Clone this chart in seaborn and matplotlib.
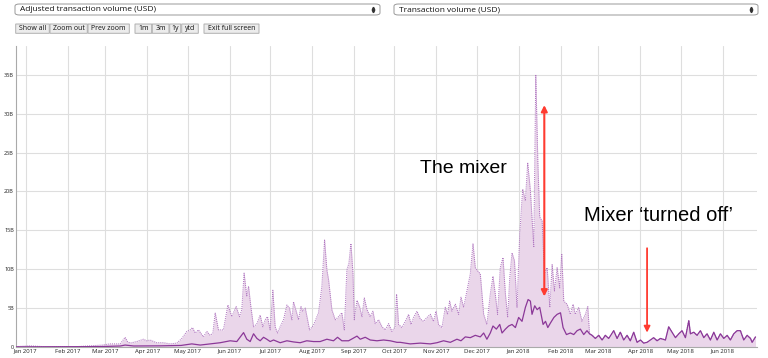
import matplotlib
matplotlib.use("Agg")
import matplotlib.pyplot as plt
import matplotlib.dates as mdates
from matplotlib.patches import FancyBboxPatch
from matplotlib.lines import Line2D
import numpy as np
import pandas as pd
import seaborn as sns

ORIGIN = pd.Timestamp("2017-01-01")

# Transaction volume (USD bn), days since 1 Jan 2017, up to the mixer switch-off
tx_days = [-7, 3, 13, 38, 57, 62, 70, 73.6, 75.3, 77.3,
           82.2, 87.2, 89.6, 92.1, 97, 102, 106.9, 111.9, 115.6, 119.3,
           121.7, 123.5, 125.5, 127.9, 131.6, 134.1, 136.6, 138.6, 140.3, 142.7,
           146.4, 149.7, 152.6, 155.8, 158.3, 160, 161.7, 163.7, 165, 166.7,
           168.7, 171.2, 173.6, 175.6, 177.3, 179, 181, 183, 184.7, 186.5,
           188.4, 190.9, 193.4, 195.3, 197.1, 198.3, 200.3, 202, 203.8, 205.2,
           207, 208.7, 210.2, 213.1, 216.8, 219.3, 221.3, 223, 224.3, 226.7,
           229.2, 231.7, 234.1, 235.9, 237.8, 239.3, 240.8, 242.3, 243.3, 245.3,
           247.2, 249, 250.7, 252.7, 255.1, 257.1, 258.8, 261.3, 263.8, 266.2,
           268.7, 271.2, 273.5, 274.6, 276.1, 278.6, 281.1, 283.5, 285.3, 287.2,
           289.7, 292.2, 294.6, 297.1, 299.6, 302, 303.8, 305.7, 308.2, 310.7,
           312.4, 313.9, 315.6, 318.1, 320.6, 322.3, 324.3, 326.7, 329.2, 331.2,
           332.9, 334.6, 336.6, 339.1, 341.5, 344, 346, 347.7, 349.4, 351.4,
           353.4, 355.2, 356.9, 358.4, 360.1, 361.9, 363.8, 365.8, 368, 370,
           371.7, 373.7, 374.9, 376.2, 377.7, 379.2, 380.6, 382.4, 384.1, 386.1,
           388.1, 389.8, 391.5, 393.5, 395.4, 396.9, 398.4, 400.9, 403.3, 405.3,
           407, 409.5, 411.9, 414.4, 416.2]
tx_vals = [0.05, 0.15, 0.05, 0.05, 0.25, 0.4, 0.4, 1.25, 0.7, 0.5,
           0.7, 1.0, 0.8, 0.9, 0.55, 0.55, 0.4, 0.5, 1.1, 2.0,
           2.2, 2.5, 1.8, 2.2, 1.3, 2.0, 1.5, 1.8, 4.4, 2.2,
           2.2, 5.4, 3.9, 5.2, 3.9, 4.8, 9.5, 6.5, 7.8, 5.2,
           2.6, 3.0, 4.1, 2.6, 3.5, 3.9, 2.2, 7.3, 2.6, 1.8,
           2.6, 3.5, 5.4, 5.0, 3.5, 5.8, 4.6, 3.5, 5.2, 4.6,
           5.0, 3.5, 2.2, 2.8, 4.4, 7.8, 13.75, 9.9, 8.6, 4.8,
           3.5, 3.9, 4.4, 2.2, 9.9, 10.75, 13.3, 9.5, 3.5, 6.0,
           5.2, 3.9, 6.3, 4.8, 3.9, 4.6, 3.0, 3.5, 2.6, 2.2,
           3.0, 2.0, 2.6, 6.8, 2.9, 2.5, 3.3, 4.2, 2.9, 3.8,
           4.6, 3.6, 3.3, 3.8, 4.2, 3.3, 4.6, 2.9, 2.5, 5.1,
           4.2, 5.9, 4.6, 5.5, 4.2, 6.4, 5.1, 7.2, 9.4, 13.3,
           10.2, 9.8, 9.4, 4.2, 2.9, 6.8, 9.1, 6.8, 4.2, 10.2,
           11.5, 6.8, 3.8, 8.9, 12.1, 11.1, 5.1, 14.5, 20.3, 18.8,
           23.7, 20.1, 16.7, 12.8, 35.0, 23.9, 16.7, 16.2, 9.4, 10.2,
           5.1, 10.6, 7.2, 10.2, 7.6, 12.0, 5.9, 5.5, 4.2, 5.5,
           4.2, 5.1, 3.3, 4.2, 5.2]

# Adjusted transaction volume (USD bn), up to the switch-off
adj_days = [-7, 55, 70, 73.6, 80, 100, 115, 119, 123,
            129.2, 136.6, 144, 151.4, 156.3, 161.3, 163.7, 166.2, 168.7, 171.2,
            173.6, 176.1, 178.5, 181, 183.5, 188.4, 193.4, 198.3, 203.2, 208.1,
            213.1, 218, 223, 227.9, 230.9, 234.1, 239.1, 245.3, 247.7, 251.4,
            255.1, 260.1, 265, 269.9, 274.9, 277.3, 284.7, 292.2, 299.6, 304.5,
            309.4, 314.4, 319.3, 322.3, 325.5, 329.2, 332.9, 336.6, 339.1, 341.5,
            344, 346, 348.5, 351, 352.7, 355.2, 357.6, 360.1, 362.6, 365,
            367.5, 370, 372, 373.7, 374.9, 376.9, 378.7, 380.6, 383.1, 384.9,
            386.6, 388.6, 391.1, 393.5, 396, 397.9, 400.4, 403.3, 405.8, 408.3,
            410.7, 413.2, 415.6]
adj_vals = [0.02, 0.05, 0.13, 0.25, 0.13, 0.15, 0.2, 0.3, 0.4,
            0.25, 0.4, 0.55, 0.8, 0.7, 1.85, 1.0, 0.7, 1.7, 1.1,
            0.8, 1.25, 1.0, 0.7, 0.9, 0.55, 0.8, 0.65, 0.55, 0.8,
            0.7, 0.7, 1.0, 0.8, 1.25, 0.8, 0.8, 1.4, 1.0, 1.25,
            0.9, 0.8, 0.9, 0.8, 0.6, 0.6, 0.4, 0.5, 0.4, 0.55,
            0.8, 0.6, 1.0, 0.8, 1.3, 1.2, 1.5, 1.3, 1.8, 1.0,
            1.8, 2.7, 2.3, 2.9, 1.8, 2.3, 2.7, 2.9, 2.5, 3.8,
            3.3, 5.1, 6.1, 5.9, 4.2, 5.3, 4.8, 5.1, 2.9, 3.3,
            2.5, 3.1, 3.8, 4.2, 4.4, 2.5, 1.6, 1.8, 1.6, 2.1,
            2.3, 1.6, 2.1]

# after the switch-off both series sit on top of each other
late_days = [417.5, 419.4, 421.8, 424.3, 426.8, 429.2, 431.7, 435.4, 437.9, 440.3,
             442.8, 445.3, 447.7, 450.2, 452.7, 455.2, 457.6, 460.1, 462.6, 465,
             467.5, 470, 473.7, 476.1, 478.6, 481.1, 483.6, 486, 488.5, 491,
             492.2, 494.7, 497.1, 499.6, 502.1, 504.5, 507, 509.5, 512, 514.4,
             516.9, 519.4, 521.8, 524.3, 526.8, 529.2, 531.7, 534.2, 536.7, 537.9,
             540.4]
late_vals = [1.7, 1.5, 1.1, 1.5, 0.9, 1.5, 1.1, 2.1, 1.1, 1.9,
             0.9, 1.5, 0.8, 1.9, 0.6, 0.9, 0.5, 0.6, 0.9, 1.2,
             0.8, 1.1, 0.9, 2.6, 1.9, 1.2, 1.7, 2.1, 1.2, 3.4,
             1.7, 1.9, 1.5, 2.1, 1.2, 1.7, 0.9, 1.9, 0.9, 1.7,
             1.1, 1.5, 0.9, 1.7, 2.1, 2.1, 0.9, 1.5, 1.1, 0.6,
             1.3]

y_ticks = [0, 5, 10, 15, 20, 25, 30, 35]
y_labels = ["0", "5B", "10B", "15B", "20B", "25B", "30B", "35B"]


def to_dates(days):
    return ORIGIN + pd.to_timedelta(np.asarray(days, dtype=float), unit="D")


tx_x = to_dates(tx_days + late_days)
tx_y = np.array(tx_vals + late_vals)
adj_x = to_dates(adj_days + late_days)
adj_y = np.array(adj_vals + late_vals)

sns.set_style("white")
plt.rcParams["font.family"] = ["Open Sans", "DejaVu Sans"]
plt.rcParams["text.color"] = "black"

W, H = 768, 358
fig = plt.figure(figsize=(W / 100, H / 100), dpi=100)
ax = fig.add_axes([16 / W, 11 / H, 741 / W, 301 / H])

ax.fill_between(tx_x, tx_y, color="#ead6ea", lw=0, zorder=1)
sns.lineplot(x=tx_x, y=tx_y, ax=ax, color="#b077c0", lw=0.75,
             linestyle=(0, (1, 1)), zorder=2)
sns.lineplot(x=adj_x, y=adj_y, ax=ax, color="#8b3898", lw=0.9, zorder=3)

ax.set_xlim(to_dates([-7.2])[0], to_dates([541.5])[0])
ax.set_ylim(0, 38.7)
ax.set_yticks(y_ticks)
ax.set_yticklabels(y_labels)
ax.xaxis.set_major_locator(mdates.MonthLocator())
ax.xaxis.set_major_formatter(mdates.DateFormatter("%b %Y"))
ax.tick_params(axis="y", length=0, pad=1.5, labelsize=4.0, labelcolor="#222222")
ax.tick_params(axis="x", length=0, pad=1.2, labelsize=4.3, labelcolor="#222222")
ax.set_xlabel("")
ax.set_ylabel("")
ax.grid(True, color="#dedede", lw=0.8, zorder=0)
ax.set_axisbelow(True)
for s in ["top", "right"]:
    ax.spines[s].set_visible(False)
for s in ["left", "bottom"]:
    ax.spines[s].set_color("#aaaaaa")
    ax.spines[s].set_linewidth(0.8)

# annotations
red = "#ff3b30"
d = lambda v: mdates.date2num(to_dates([v])[0])
ax.annotate("", xy=(d(384), 6.5), xytext=(d(384), 31.1),
            arrowprops=dict(arrowstyle="<|-|>", color=red, lw=1.5,
                            mutation_scale=9, shrinkA=0, shrinkB=0))
ax.annotate("", xy=(d(460.1), 1.85), xytext=(d(460.1), 12.7),
            arrowprops=dict(arrowstyle="-|>", color=red, lw=1.3,
                            mutation_scale=9, shrinkA=0, shrinkB=0))
ax.text(d(324), 22.9, "The mixer", fontsize=14, family="Liberation Sans",
        ha="center", va="center", color="black")
ax.text(d(468.5), 16.9, "Mixer \u2018turned off\u2019", fontsize=14.5,
        family="Liberation Sans", ha="center", va="center", color="black")


# screenshot UI: dropdowns and buttons
def fx(px):
    return px / W


def fy(py):
    return 1 - py / H


def box(x0, x1, y0, y1, fc, ec, rad=0.0):
    fig.add_artist(FancyBboxPatch((fx(x0), fy(y1)), fx(x1) - fx(x0), fy(y0) - fy(y1),
                                  boxstyle=f"round,pad=0,rounding_size={rad}",
                                  fc=fc, ec=ec, lw=0.7, transform=fig.transFigure))


for (x0, x1, label) in [(15, 380, "Adjusted transaction volume (USD)"),
                        (394, 758, "Transaction volume (USD)")]:
    box(x0, x1, 4, 15, "white", "#999999", rad=0.006)
    fig.text(fx(x0 + 5), fy(9.6), label, fontsize=6, va="center", ha="left",
             color="#111111")
    fig.add_artist(Line2D([fx(x1 - 7)], [fy(8)], marker="^", ms=1.8,
                          color="#333333", transform=fig.transFigure))
    fig.add_artist(Line2D([fx(x1 - 7)], [fy(11.3)], marker="v", ms=1.8,
                          color="#333333", transform=fig.transFigure))

buttons = [(15.7, 49.3, "Show all"), (50, 87.3, "Zoom out"), (88, 129.3, "Prev zoom"),
           (135, 151.7, "1m"), (152.3, 169, "3m"), (169.7, 180.7, "1y"),
           (181.7, 198.3, "ytd"), (204, 259, "Exit full screen")]
for x0, x1, label in buttons:
    box(x0, x1, 24, 33.3, "#ececec", "#b0b0b0")
    fig.text(fx((x0 + x1) / 2), fy(28.8), label, fontsize=5, va="center",
             ha="center", color="#111111")

fig.savefig("out.png", dpi=100, facecolor="white")
